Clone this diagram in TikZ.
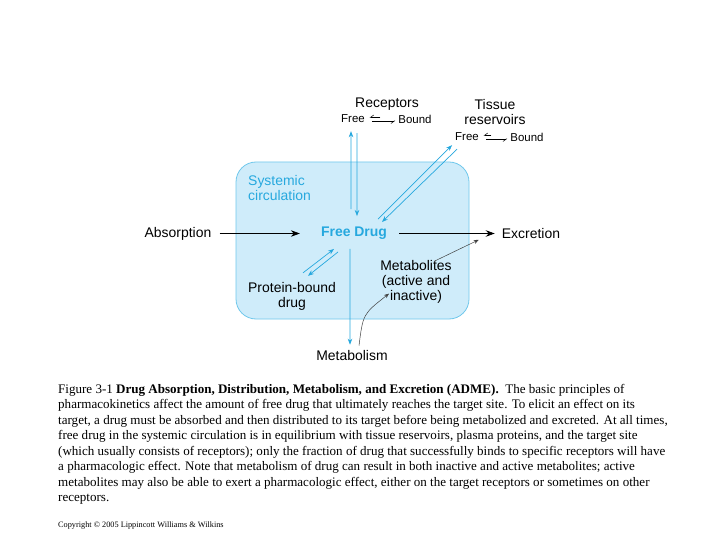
\documentclass[tikz,border=0pt]{standalone}
\usepackage{fontspec}
\setmainfont{Liberation Serif}
\setsansfont{Liberation Sans}
\usetikzlibrary{arrows.meta,positioning}

\definecolor{circfill}{RGB}{207,236,250}
\definecolor{circline}{RGB}{112,200,236}
\definecolor{drugcyan}{RGB}{38,168,222}

\begin{document}
\begin{tikzpicture}[x=1bp,y=-1bp,
    % node attributes
    every node/.style = {
        font=\sffamily\fontsize{14}{15}\selectfont,
        inner sep=1bp},
    smalltext/.style = {font=\sffamily\fontsize{11.5}{12}\selectfont},
    cyantext/.style = {text=drugcyan},
    % connectors
    flow/.style = {-{Stealth[length=9bp,width=6.5bp]}, line width=0.8bp},
    cyanflow/.style = {-{Stealth[length=6bp,width=4.5bp]}, draw=drugcyan, line width=0.7bp},
    thinflow/.style = {-{Stealth[length=5bp,width=4bp]}, draw=black!75, line width=0.5bp},
    harp/.style = {-{Straight Barb[harpoon,swap,length=3.5bp,width=5bp]}, line width=0.5bp}]

    \useasboundingbox[fill=white] (0,0) rectangle (720,540);

    % systemic circulation box
    \node[draw=circline, fill=circfill, line width=0.8bp, rounded corners=20bp,
        minimum width=233bp, minimum height=157bp] (circulation) at (352.5,240.5) {};
    \node[cyantext, align=left, anchor=north west] (systemic) at (247,174) {Systemic\\circulation};

    % main row
    \node (absorption) at (178,233.5) {Absorption};
    \node[cyantext] (freedrug) at (354,233.5) {\textbf{Free Drug}};
    \node (excretion) at (531,233.5) {Excretion};

    % receptors
    \node (receptors) at (387,104) {Receptors};
    \node[smalltext] (recfree) at (353,119) {Free};
    \node[smalltext] (recbound) at (415,119) {Bound};

    % tissue reservoirs
    \node[align=center] (tissue) at (495,112) {Tissue\\reservoirs};
    \node[smalltext] (tisfree) at (467,137) {Free};
    \node[smalltext] (tisbound) at (527,137) {Bound};

    % inside the box
    \node[align=center] (protein) at (292,296) {Protein-bound\\drug};
    \node[align=center] (metabolites) at (416,282) {Metabolites\\(active and\\inactive)};
    \node (metabolism) at (352,356) {Metabolism};

    % connectors
    \draw[flow] ([xshift=7bp]absorption.east) -- ([xshift=-20bp]freedrug.west);
    \draw[flow] ([xshift=11bp]freedrug.east) -- ([xshift=-6bp]excretion.west);

    \draw[cyanflow] ([xshift=-3bp,yshift=17bp]freedrug.north) -- ([xshift=-2bp,yshift=-7bp]recfree.south);
    \draw[cyanflow] ([xshift=4bp,yshift=-9bp]recfree.south) -- ([xshift=3bp,yshift=10bp]freedrug.north);
    \draw[cyanflow] ([xshift=24bp,yshift=7bp]freedrug.north) -- ([xshift=-2bp,yshift=-3bp]tisfree.south west);
    \draw[cyanflow] ([xshift=3bp,yshift=-7bp]tisfree.south west) -- ([xshift=28bp,yshift=4bp]freedrug.north);
    \draw[cyanflow] ([xshift=11bp,yshift=8bp]protein.north) -- ([xshift=-20bp,yshift=-8bp]freedrug.south);
    \draw[cyanflow] ([xshift=-16bp,yshift=-11bp]freedrug.south) -- ([xshift=16bp,yshift=5bp]protein.north);
    \draw[cyanflow] ([xshift=-4bp,yshift=-8bp]freedrug.south) -- ([xshift=-2bp,yshift=5bp]metabolism.north);

    \draw[harp] ([xshift=14.5bp,yshift=1.5bp]recfree.east) -- ([xshift=3.5bp,yshift=1.5bp]recfree.east);
    \draw[harp] ([xshift=6bp,yshift=-2bp]recfree.east) -- ([xshift=-2bp,yshift=-2bp]recbound.west);
    \draw[harp] ([xshift=11.5bp,yshift=1.5bp]tisfree.east) -- ([xshift=3.5bp,yshift=1.5bp]tisfree.east);
    \draw[harp] ([xshift=6.5bp,yshift=-2bp]tisfree.east) -- ([xshift=-2bp,yshift=-2bp]tisbound.west);

    \draw[thinflow] ([xshift=7bp,yshift=4bp]metabolism.north) .. controls (363,314) .. ([xshift=-27bp,yshift=11bp]metabolites.south);
    \draw[thinflow] ([xshift=18bp,yshift=-2bp]metabolites.north) -- ([xshift=-22bp,yshift=0bp]excretion.south west);

    % caption
    \node[anchor=north west, align=left, inner sep=0pt,
        font=\rmfamily\fontsize{13.1}{15.5}\selectfont] (caption) at (58,384) {%
        Figure 3-1 \textbf{Drug Absorption, Distribution, Metabolism, and Excretion (ADME).}\ \ The basic principles of\\
        pharmacokinetics affect the amount of free drug that ultimately reaches the target site. To elicit an effect on its\\
        target, a drug must be absorbed and then distributed to its target before being metabolized and excreted. At all times,\\
        free drug in the systemic circulation is in equilibrium with tissue reservoirs, plasma proteins, and the target site\\
        (which usually consists of receptors); only the fraction of drug that successfully binds to specific receptors will have\\
        a pharmacologic effect. Note that metabolism of drug can result in both inactive and active metabolites; active\\
        metabolites may also be able to exert a pharmacologic effect, either on the target receptors or sometimes on other\\
        receptors.};
    \node[anchor=west, inner sep=0pt, font=\rmfamily\fontsize{8.3}{10}\selectfont] (copyright) at (58,526)
        {Copyright \textcopyright{} 2005 Lippincott Williams \& Wilkins};
\end{tikzpicture}
\end{document}
